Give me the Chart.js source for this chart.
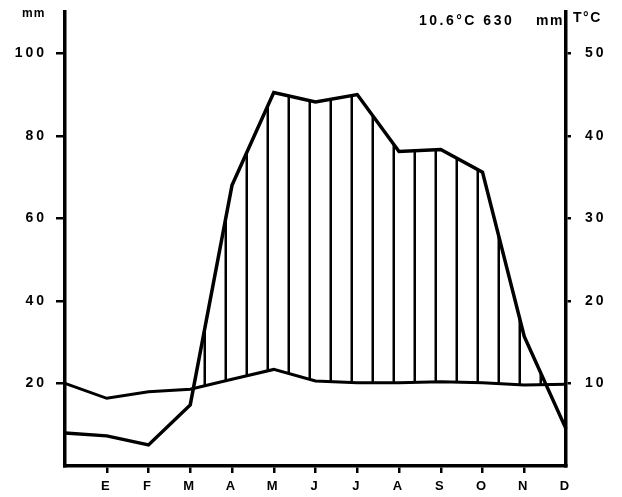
<!DOCTYPE html>
<html>
<head>
<meta charset="utf-8">
<script src="https://cdn.jsdelivr.net/npm/chart.js@4.4.1/dist/chart.umd.min.js"></script>
<style>
  html, body { margin: 0; padding: 0; background: #fff; }
</style>
</head>
<body>
<canvas id="climaChart" width="622" height="497"></canvas>
<script>
// climograma: precipitación (mm, eje izq.) y temperatura (°C, eje der.)
const meses = ['', 'E', 'F', 'M', 'A', 'M', 'J', 'J', 'A', 'S', 'O', 'N', 'D'];
const precipitacion = [8.0, 7.3, 5.1, 14.8, 68.0, 90.5, 88.2, 90.0, 76.2, 76.7, 71.2, 31.4, 9.0];
const temperatura = [10.0, 8.2, 9.0, 9.3, 10.5, 11.7, 10.3, 10.1, 10.1, 10.2, 10.1, 9.8, 9.9];
const ticksMm = [20, 40, 60, 80, 100];
const ticksTemp = [10, 20, 30, 40, 50];
const resumen = '10.6°C 630';

const fuente = '"Liberation Sans", Arial, sans-serif';

// rayado vertical para el periodo húmedo
function crearRayado() {
  const c = document.createElement('canvas');
  c.width = 21;
  c.height = 8;
  const cx = c.getContext('2d');
  cx.fillStyle = '#000';
  cx.fillRect(14.5, 0, 2.5, 8);
  return cx.createPattern(c, 'repeat');
}

const espaciado = {
  id: 'espaciado',
  beforeDraw: function (chart) {
    chart.ctx.letterSpacing = '3px';
  },
};

const rotulos = {
  id: 'rotulos',
  afterDraw: function (chart) {
    const { ctx, chartArea } = chart;
    ctx.save();
    ctx.fillStyle = '#000';
    ctx.textBaseline = 'alphabetic';
    ctx.letterSpacing = '1px';
    ctx.font = 'bold 12px ' + fuente;
    ctx.textAlign = 'left';
    ctx.fillText('mm', 22, 17);
    ctx.font = 'bold 14px ' + fuente;
    ctx.letterSpacing = '2.5px';
    ctx.fillText(resumen, 419, 25);
    ctx.letterSpacing = '1.5px';
    ctx.textAlign = 'right';
    ctx.fillText('mm', chartArea.right - 2, 25);
    ctx.textAlign = 'left';
    ctx.fillText('T°C', chartArea.right + 7, 22);
    ctx.restore();
  },
};

// quitar el margen que Chart.js reserva para media etiqueta
function sinRelleno(scale) {
  scale.paddingTop = 0;
  scale.paddingBottom = 0;
}

const climaChart = new Chart(document.getElementById('climaChart'), {
  type: 'line',
  data: {
    labels: meses,
    datasets: [
      {
        label: 'mm',
        data: precipitacion,
        yAxisID: 'y',
        borderColor: '#000',
        borderWidth: 3.5,
        pointRadius: 0,
        tension: 0,
        fill: { target: 1, above: crearRayado(), below: 'rgba(0,0,0,0)' },
      },
      {
        label: 'T°C',
        data: temperatura,
        yAxisID: 'y1',
        borderColor: '#000',
        borderWidth: 3,
        pointRadius: 0,
        tension: 0,
        fill: false,
      },
    ],
  },
  options: {
    responsive: false,
    animation: false,
    devicePixelRatio: 1,
    layout: { padding: { top: 12, left: 0, right: 0, bottom: 0 } },
    scales: {
      x: {
        offset: false,
        grid: {
          drawOnChartArea: false,
          // sin marca en las esquinas
          color: (ctx) => (ctx.index === 0 || ctx.index === meses.length - 1 ? 'rgba(0,0,0,0)' : '#000'),
          lineWidth: 2.5,
          tickLength: 7,
        },
        border: { color: '#000', width: 3.5 },
        ticks: { color: '#000', font: { family: fuente, size: 13, weight: 'bold' }, padding: 6, maxRotation: 0, autoSkip: false },
        afterFit: function (scale) { scale.height = 31; },
      },
      y: {
        position: 'left',
        min: 0,
        max: 110,
        afterBuildTicks: function (scale) { scale.ticks = ticksMm.map((v) => ({ value: v })); },
        grid: { drawOnChartArea: false, color: '#000', lineWidth: 2.5, tickLength: 9 },
        border: { color: '#000', width: 3.5 },
        ticks: { color: '#000', font: { family: fuente, size: 14, weight: 'bold' }, padding: 9 },
        afterFit: function (scale) { scale.width = 65; sinRelleno(scale); },
      },
      y1: {
        position: 'right',
        min: 0,
        max: 55,
        afterBuildTicks: function (scale) { scale.ticks = ticksTemp.map((v) => ({ value: v })); },
        grid: { drawOnChartArea: false, color: '#000', lineWidth: 2.5, tickLength: 5 },
        border: { color: '#000', width: 3.5 },
        ticks: { color: '#000', font: { family: fuente, size: 14, weight: 'bold' }, padding: 14 },
        afterFit: function (scale) { scale.width = 56; sinRelleno(scale); },
      },
    },
    plugins: {
      legend: { display: false },
      tooltip: { enabled: false },
    },
  },
  plugins: [espaciado, rotulos],
});
</script>
</body>
</html>
